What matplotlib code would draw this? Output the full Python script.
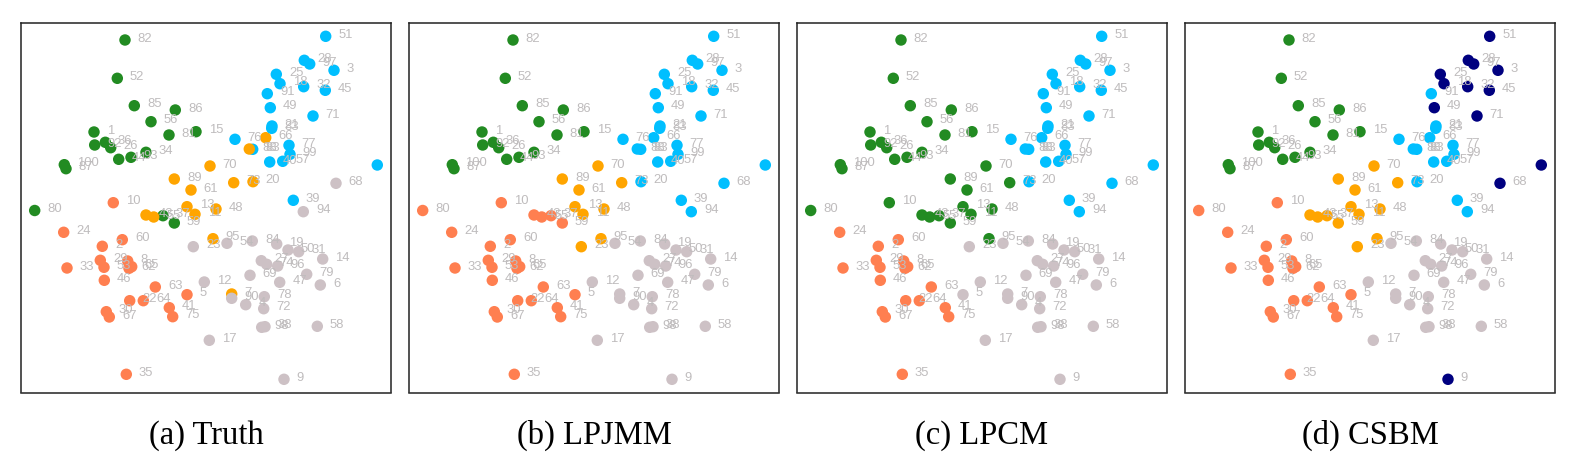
"""Four network panels: same node layout, coloured by each method's communities."""
import matplotlib
matplotlib.use("Agg")
import matplotlib.pyplot as plt

node_labels = ("1 2 3 4 5 6 7 8 9 10 11 12 13 14 15 16 17 18 19 20 "
               "21 22 23 24 25 26 27 28 29 30 31 32 33 34 35 36 37 38 39 40 41 "
               "43 44 45 46 47 48 49 50 51 52 53 54 55 56 57 58 59 60 "
               "61 62 63 64 65 66 67 68 69 70 71 72 73 74 75 76 77 78 79 80 "
               "81 82 83 83 84 85 86 87 88 89 90 91 92 93 94 95 96 97 98 99 100").split()
node_x = [94, 102.3, 334, 245.7, 187, 320.3, 231.7, 127.7, 284, 113.3,
          195, 204.3, 187, 322.7, 196, 377.3, 209.3, 280, 276.7, 253,
          272, 129.7, 193.3, 63.7, 276.3, 110.7, 261.3, 304.3, 100.3, 106.3,
          298.7, 303.7, 67, 146, 126.3, 105.3, 163, 265, 293.3, 269.7, 169.3,
          146, 118.7, 325.3, 104.3, 279.7, 216, 270.3, 288,
          325.7, 117.3, 104, 227, 153.7, 151, 282.7, 317.3, 174.3, 122.3,
          191, 129, 155.3, 143.3, 131.7, 265.7, 109.3, 336, 250, 210,
          313, 263.7, 233.7, 266.7, 172.7, 235, 289, 264.3, 306.7, 34.7,
          169, 125, 271.7, 252.7, 252.3, 134.3, 175.3, 66, 249.3, 174.3, 231.7,
          267.3, 94.7, 131, 303.3, 213, 277.7, 309.7, 261.7, 290, 64.3]
node_y = [132, 246.3, 70.3, 304.7, 294.7, 285, 294, 261, 379.3, 202.7,
          214.3, 282, 206.7, 259, 131.7, 165, 340.3, 83.7, 244, 181.7,
          126, 300.7, 246.7, 232.3, 74.3, 147.7, 260.7, 60.3, 260.3, 311.7,
          251.7, 86.7, 268, 152.3, 374.3, 142.3, 215.7, 326.7, 200.3, 162, 307.7,
          215, 159.3, 90.3, 280.3, 282.3, 209, 107.7, 250,
          36.3, 78.3, 267.3, 243.3, 217, 121.7, 161.3, 326.3, 223, 239.7,
          190, 268.3, 287, 300.7, 266.7, 137.7, 317, 183.3, 275.3, 166,
          116, 308.7, 182.7, 264.3, 316.7, 139.3, 145.3, 296.7, 274.3, 210.5,
          135, 40, 128.3, 149.3, 241, 105.7, 110, 168.7, 149, 179, 298.3,
          93.7, 145, 157.3, 211.7, 238.7, 266, 64, 327.3, 154.3, 164.7]

truth = ("G C B K C K O C K C  O K O K G B K B K O  B C K C B G K B C C  "
         "K B C G C G G K B B C  O G B C K O B K  B G C K O G B K G C  "
         "O C C C C O C K K O  B K O K C B B K K G  G G B B  "
         "K G G G O O K  B G G K O K B K B G").split()
lpjmm = ("G C B K C K K C K C  O K O K G B K B K B  B C O C B G K B C C  "
         "K B C G C G C K B B C  C G B C K O B K  B G C K C G B K C C  "
         "O C C C C B C B K O  B K O K C B B K K C  G G B B  "
         "K G G G B O K  B G G B O K B K B G").split()
lpcm = ("G C B K K K K C K G  G K G K G B K B K B  B C K C B G K B C C  "
        "K B C G C G G K B B C  G G B C K G B K  B G C K G G B K G C  "
        "G C C C C B C B K G  B K G K C B B K K G  G G B B  "
        "K G G G B G K  B G G B G K B K B G").split()
csbm = ("G C N K C K K C N C  O K O K G N K N K B  B C O C N G K N C C  "
        "K N C G C G O K B B C  O G N C K O N K  N G C K O G B K O C  "
        "O C C C C B C N K O  N K O K C B B K K C  G G B B  "
        "K G G G B O K  B G G B O K N K B G").split()

captions = ["(a) Truth", "(b) LPJMM", "(c) LPCM", "(d) CSBM"]
panels = [truth, lpjmm, lpcm, csbm]
colors = {"G": "#228B22", "B": "#00BFFF", "O": "#FFA500",
          "C": "#FF7F50", "K": "#CDC1C5", "N": "#000080"}

W, H = 1576, 466
fig = plt.figure(figsize=(W / 100, H / 100), dpi=100)
for i, (groups, cap) in enumerate(zip(panels, captions)):
    left = 21 + 388 * i
    ax = fig.add_axes([left / W, 1 - 392.5 / H, 370 / W, 369.5 / H])
    ax.scatter(node_x, node_y, s=68, c=[colors[g] for g in groups], linewidths=0, zorder=2)
    for lab, x, y in zip(node_labels, node_x, node_y):
        ax.annotate(lab, (x, y), xytext=(9.1, 0.9), textcoords="offset points",
                    fontsize=9.4, family="Liberation Sans", color="#bfbcbd",
                    va="center", ha="left", zorder=3, annotation_clip=True, clip_on=True)
    ax.set_xlim(21, 391)
    ax.set_ylim(392.5, 23)
    ax.set_xticks([])
    ax.set_yticks([])
    for s in ax.spines.values():
        s.set_linewidth(1.1)
        s.set_color("#222222")
    fig.text((left + 185) / W, 1 - 444 / H, cap, ha="center", va="baseline",
             fontsize=23.5, family="Liberation Serif", color="black")

fig.savefig("out.png", dpi=100)
plt.close(fig)
